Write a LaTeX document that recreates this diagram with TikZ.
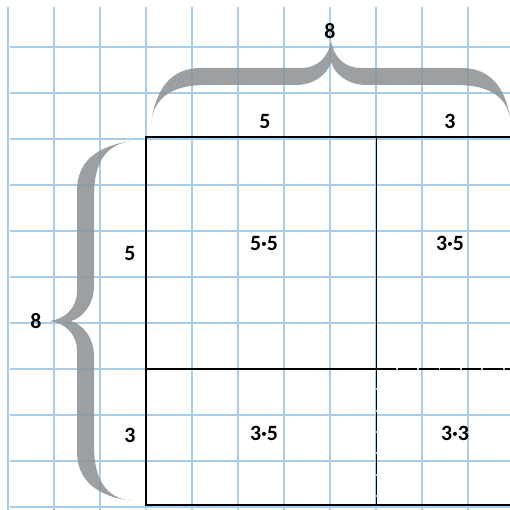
\documentclass[tikz,border=0pt]{standalone}
\usepackage{fontspec}
\setmainfont{Carlito}
\usepackage{xcolor}
\usepackage{tikz}
\usetikzlibrary{arrows.meta, positioning, calc}

\definecolor{gridblue}{RGB}{168,206,238}
\definecolor{bracegray}{RGB}{140,144,146}

% curly brace outline, in pixel units: a = across (0 at the tips), s = along
\newcommand{\gridbrace}{%
  (0,0) .. controls (35,5) and (55,20) .. (55,50)
  -- (55,150) .. controls (55,168) and (68,178) .. (82,180)
  .. controls (68,182) and (55,192) .. (55,210)
  -- (55,310) .. controls (55,340) and (35,355) .. (0,360)
  .. controls (25,357) and (38,340) .. (38,305)
  -- (38,215) .. controls (38,196) and (50,183) .. (61,180)
  .. controls (50,177) and (38,164) .. (38,145)
  -- (38,55) .. controls (38,20) and (25,3) .. (0,0) -- cycle}

\begin{document}
\begin{tikzpicture}[
    gridline/.style={gridblue, line width=1.3pt},
    edge/.style={black, line width=0.9pt},
    cutedge/.style={black, line width=0.9pt, dash pattern=on 12pt off 1.2pt},
    bracefill/.style={fill=bracegray, fill opacity=0.85},
    num/.style={font=\bfseries\fontsize{13.5}{15}\selectfont, inner sep=0pt},
]

% background and page size
\fill[white] (-3.174,-0.065) rectangle (7.913,11.022);
\useasboundingbox (-3.174,-0.065) rectangle (7.913,11.022);

% ═══════════════════════════════════════════════════════════════════════
%  Squared paper
% ═══════════════════════════════════════════════════════════════════════
\foreach \u in {-3,...,7}
    \draw[gridline] (\u,-0.065) -- (\u,10.87);
\foreach \v in {0,...,10}
    \draw[gridline] (-2.957,\v) -- (7.913,\v);

% ═══════════════════════════════════════════════════════════════════════
%  The 8 by 8 square, split 5 + 3
% ═══════════════════════════════════════════════════════════════════════
\coordinate (SW) at (0,0.04);
\coordinate (NW) at (0,8.04);
\coordinate (NE) at (8,8.04);
\coordinate (SE) at (8,0.04);
\coordinate (Mtop) at (5.01,8.04);
\coordinate (Mmid) at (5.01,3);
\coordinate (Mbot) at (5.01,0.04);
\coordinate (Lmid) at (0,3);
\coordinate (Rmid) at (8,3);

\draw[edge] (SE) -- (SW) -- (NW) -- (NE);
\draw[edge] (Mtop) -- (Mmid);
\draw[edge] (Lmid) -- (Mmid);
\draw[cutedge] (Mmid) -- (Mbot);
\draw[cutedge] (Mmid) -- (Rmid);

% ═══════════════════════════════════════════════════════════════════════
%  Braces
% ═══════════════════════════════════════════════════════════════════════
% left brace, tips at the right, point to the left
\begin{scope}[shift={(-0.304,7.957)}, x={(-0.021739cm,0cm)}, y={(0cm,-0.021739cm)}]
    \fill[bracefill] \gridbrace;
\end{scope}
% top brace, tips below, point upwards
\begin{scope}[shift={(0.11,8.348)}, x={(0cm,0.021739cm)}, y={(0.021739cm,0cm)}]
    \fill[bracefill] \gridbrace;
\end{scope}

% ═══════════════════════════════════════════════════════════════════════
%  Labels
% ═══════════════════════════════════════════════════════════════════════
\node[num] (topsum) at (4.0,10.35) {8};
\node[num] (topa) at (2.587,8.39) {5};
\node[num] (topb) at (6.609,8.39) {3};
\node[num] (leftsum) at (-2.391,4.043) {8};
\node[num] (lefta) at (-0.348,5.522) {5};
\node[num] (leftb) at (-0.348,1.565) {3};

\node[num] (partAA) at (2.565,5.739) {5·5};
\node[num] (partAB) at (6.609,5.739) {3·5};
\node[num] (partBA) at (2.565,1.609) {3·5};
\node[num] (partBB) at (6.717,1.609) {3·3};

\end{tikzpicture}
\end{document}
